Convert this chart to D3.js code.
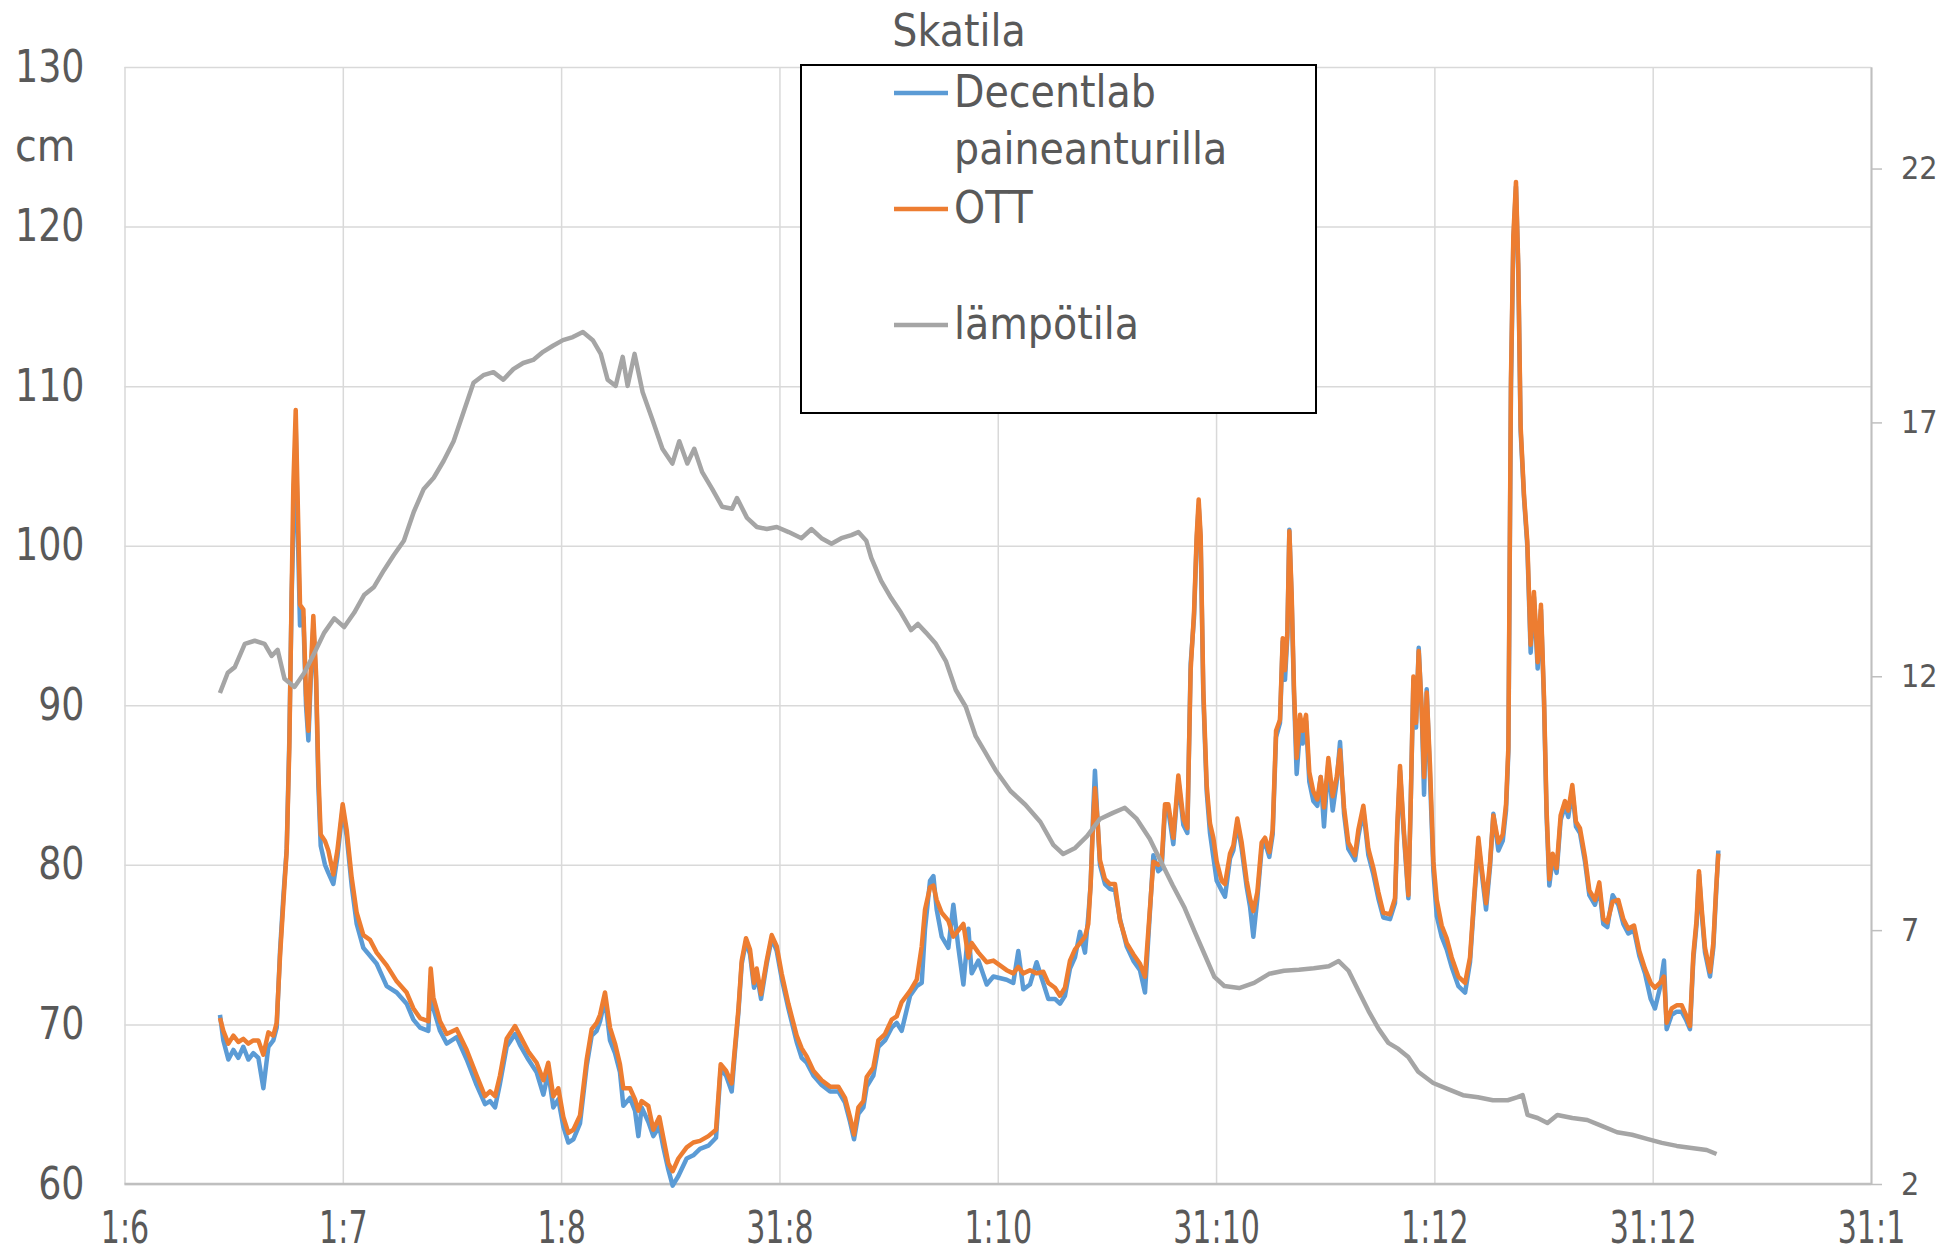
<!DOCTYPE html>
<html lang="fi">
<head>
<meta charset="utf-8">
<title>Skatila</title>
<script src="https://d3js.org/d3.v7.min.js"></script>
<style>
  body { margin: 0; background: #fff; }
  svg text { font-family: "Liberation Sans Narrow", "DejaVu Sans Condensed", sans-serif; fill: #595959; }
  .narrow-mid text { transform-box: fill-box; transform-origin: center; transform: scaleX(0.76); }
  .narrow-end text { transform-box: fill-box; transform-origin: right center; transform: scaleX(0.92); }
</style>
</head>
<body>
<svg width="1952" height="1253"></svg>
<script>
// days counted from 1 June, water level in cm
var waterDays = [
  13.34, 13.81, 14.51, 15.21, 15.90, 16.60, 17.30, 18.00, 18.70, 19.40,
  20.10, 20.79, 21.26, 21.73, 22.19, 22.66, 23.03, 23.36, 23.59, 23.92,
  24.15, 24.52, 24.99, 25.36, 25.69, 26.01, 26.38, 26.76, 27.08, 27.41,
  28.01, 28.48, 29.18, 29.74, 30.48, 31.04, 31.74, 32.44, 33.37, 34.30,
  35.23, 36.63, 38.03, 39.42, 40.36, 41.29, 42.45, 42.78, 43.15, 44.08,
  45.01, 46.41, 47.81, 49.20, 50.37, 51.07, 51.77, 52.46, 53.39, 54.56,
  55.26, 56.42, 57.58, 58.52, 59.21, 59.91, 60.61, 61.31, 62.01, 62.71,
  63.64, 64.57, 65.27, 65.97, 66.44, 67.13, 67.83, 68.53, 69.22, 69.69,
  70.62, 71.32, 71.79, 72.25, 73.18, 73.88, 74.72, 75.28, 75.98, 76.58,
  77.38, 78.54, 79.47, 80.40, 81.57, 82.64, 83.29, 84.04, 84.83, 85.29,
  85.76, 86.23, 86.83, 87.39, 87.95, 88.32, 88.93, 89.72, 90.42, 91.12,
  91.81, 92.75, 93.91, 94.61, 95.31, 96.24, 97.40, 98.57, 99.73, 100.66,
  101.36, 101.92, 102.53, 103.23, 103.69, 104.62, 105.32, 106.25, 107.18, 107.88,
  108.58, 109.75, 110.68, 111.38, 111.84, 112.54, 113.01, 113.47, 114.17, 115.10,
  115.80, 116.50, 117.20, 117.90, 118.36, 119.30, 120.46, 121.39, 123.24, 124.17,
  124.87, 125.57, 126.50, 127.43, 128.36, 129.06, 129.99, 130.69, 131.39, 132.09,
  132.79, 133.49, 134.19, 134.65, 134.98, 135.35, 135.58, 135.91, 136.28, 136.98,
  137.68, 138.38, 139.08, 140.01, 140.94, 141.87, 142.57, 143.74, 144.43, 144.90,
  145.37, 145.83, 146.53, 147.23, 147.93, 148.49, 148.95, 149.42, 149.79, 150.07,
  150.35, 150.72, 151.19, 151.65, 152.12, 152.59, 153.28, 153.75, 154.45, 154.91,
  155.47, 156.08, 156.78, 157.24, 157.71, 158.27, 158.87, 159.34, 159.94, 160.41,
  160.88, 161.43, 161.81, 162.13, 162.46, 162.74, 163.06, 163.39, 163.76, 164.23,
  164.60, 165.07, 165.53, 166.09, 166.65, 167.12, 167.58, 168.19, 168.79, 169.35,
  169.82, 170.38, 170.98, 171.91, 172.38, 173.08, 173.78, 174.48, 175.17, 175.87,
  176.80, 177.50, 177.83, 178.20, 178.67, 179.37, 179.69, 180.07, 180.44, 180.81,
  181.23, 181.56, 181.93, 182.39, 182.86, 183.33, 184.02, 184.72, 185.42, 186.35,
  187.29, 187.98, 188.54, 189.15, 189.61, 190.22, 190.78, 191.24, 191.94, 192.55,
  193.01, 193.34, 193.70, 194.03, 194.40, 194.72, 195.05, 195.52, 195.98, 196.45,
  196.91, 197.43, 197.89, 198.31, 198.68, 199.06, 199.52, 200.08, 200.64, 201.25,
  201.71, 202.27, 202.78, 203.34, 204.04, 204.65, 205.44, 206.04, 206.60, 207.16,
  207.91, 208.70, 209.40, 210.09, 210.89, 211.63, 212.42, 213.22, 213.82, 214.52,
  215.08, 215.45, 216.15, 216.85, 217.55, 218.15, 218.71, 219.18, 219.64, 219.97,
  220.34, 220.81, 221.51, 221.97, 222.35, 222.67
];

var ottCm = [
  70.4, 69.6, 68.8, 69.3, 68.9, 69.1, 68.8, 69.0, 69.0, 68.1,
  69.5, 69.3, 70.1, 74.3, 77.6, 80.9, 87.4, 97.3, 103.8, 108.5,
  103.8, 96.3, 96.0, 90.7, 88.4, 92.0, 95.6, 92.0, 85.8, 81.9,
  81.5, 80.9, 79.4, 80.9, 83.8, 82.2, 79.2, 77.0, 75.6, 75.3,
  74.5, 73.7, 72.7, 72.0, 71.0, 70.4, 70.2, 73.5, 71.7, 70.2,
  69.4, 69.7, 68.4, 66.8, 65.5, 65.8, 65.5, 66.8, 69.1, 69.9,
  69.3, 68.3, 67.6, 66.5, 67.6, 65.5, 66.0, 64.2, 63.2, 63.4,
  64.3, 67.8, 69.7, 70.1, 70.6, 72.0, 69.8, 68.8, 67.5, 66.0,
  66.0, 65.3, 64.6, 65.2, 64.9, 63.4, 64.2, 62.9, 61.3, 60.8,
  61.6, 62.3, 62.6, 62.7, 63.0, 63.4, 67.5, 67.1, 66.3, 68.6,
  70.9, 74.0, 75.4, 74.7, 72.6, 73.5, 71.9, 74.0, 75.6, 74.9,
  73.2, 71.3, 69.3, 68.5, 68.0, 67.1, 66.5, 66.1, 66.1, 65.4,
  64.2, 63.1, 64.8, 65.2, 66.7, 67.3, 69.0, 69.4, 70.3, 70.5,
  71.4, 72.1, 72.8, 74.9, 77.2, 78.6, 78.7, 77.8, 77.0, 76.5,
  75.5, 75.9, 76.3, 74.2, 75.1, 74.5, 73.9, 74.0, 73.4, 73.2,
  73.6, 73.2, 73.4, 73.2, 73.3, 72.6, 72.3, 71.8, 72.3, 74.0,
  74.7, 75.1, 75.5, 76.3, 78.8, 83.0, 84.8, 83.0, 80.3, 79.1,
  78.8, 78.8, 76.5, 75.1, 74.4, 73.8, 73.0, 80.2, 80.0, 80.2,
  83.8, 83.8, 81.7, 85.6, 82.9, 82.3, 92.2, 95.8, 100.6, 102.9,
  100.6, 91.0, 85.0, 82.6, 81.7, 80.2, 79.0, 78.8, 80.7, 81.2,
  82.9, 81.4, 79.0, 77.9, 77.1, 78.3, 81.4, 81.7, 80.8, 82.2,
  88.4, 89.1, 94.2, 92.2, 94.6, 100.9, 97.0, 91.0, 86.7, 89.4,
  88.4, 89.4, 85.8, 84.6, 84.1, 85.5, 83.6, 86.7, 84.3, 85.5,
  87.2, 83.6, 81.4, 80.6, 82.2, 83.7, 81.0, 79.8, 78.3, 77.0,
  76.9, 77.9, 82.6, 86.2, 82.6, 78.1, 83.8, 91.8, 88.9, 93.4,
  89.8, 85.5, 90.8, 86.2, 80.2, 77.8, 76.2, 75.4, 74.2, 73.0,
  72.6, 74.2, 77.9, 81.7, 79.8, 77.6, 80.2, 83.1, 81.4, 81.9,
  83.8, 87.4, 110.4, 119.4, 122.8, 117.6, 107.5, 103.2, 100.3, 93.8,
  97.1, 92.7, 96.3, 90.6, 83.4, 79.1, 80.7, 79.8, 83.1, 84.0,
  83.4, 85.0, 82.7, 82.3, 80.5, 78.4, 77.8, 78.9, 76.6, 76.4,
  77.7, 77.8, 76.6, 76.0, 76.2, 74.6, 73.5, 72.6, 72.3, 72.6,
  73.0, 70.1, 71.0, 71.2, 71.2, 70.6, 69.9, 74.4, 76.6, 79.6,
  77.3, 74.8, 73.3, 75.1, 78.4, 80.7
];

var decentlabCm = [
  70.6, 69.0, 67.8, 68.4, 67.9, 68.6, 67.8, 68.2, 67.9, 66.0,
  68.6, 69.0, 69.8, 74.6, 78.0, 81.0, 87.9, 97.0, 101.0, 107.5,
  102.0, 95.0, 95.5, 90.0, 87.8, 91.5, 95.0, 91.6, 85.0, 81.2,
  80.0, 79.5, 78.8, 80.5, 83.5, 81.8, 78.7, 76.3, 74.8, 74.3,
  73.8, 72.4, 72.0, 71.3, 70.3, 69.8, 69.6, 73.0, 71.0, 69.6,
  68.8, 69.2, 67.8, 66.2, 65.0, 65.2, 64.8, 66.3, 68.6, 69.4,
  68.7, 67.8, 67.0, 65.6, 67.0, 64.8, 65.3, 63.6, 62.6, 62.8,
  63.8, 67.4, 69.3, 69.6, 70.2, 71.6, 69.0, 68.2, 67.0, 64.9,
  65.4, 64.6, 63.0, 64.8, 63.9, 63.0, 63.6, 62.3, 60.9, 59.9,
  60.5, 61.6, 61.8, 62.2, 62.4, 62.9, 67.2, 66.8, 65.8, 68.3,
  70.7, 73.8, 75.2, 74.4, 72.3, 73.2, 71.6, 73.8, 75.4, 74.6,
  72.9, 71.0, 68.9, 67.9, 67.6, 66.8, 66.2, 65.8, 65.8, 65.1,
  63.9, 62.8, 64.4, 64.8, 66.1, 66.8, 68.6, 69.0, 69.8, 70.1,
  69.6, 71.8, 72.4, 72.6, 76.0, 79.0, 79.3, 77.2, 75.5, 74.8,
  77.5, 74.8, 72.5, 76.0, 73.2, 74.0, 72.5, 73.0, 72.8, 72.6,
  74.6, 72.2, 72.5, 73.9, 72.6, 71.6, 71.6, 71.3, 71.8, 73.5,
  74.2, 75.8, 74.5, 76.8, 78.8, 83.5, 85.9, 83.0, 80.0, 78.8,
  78.5, 78.4, 76.6, 74.9, 74.0, 73.4, 72.0, 80.6, 79.6, 79.8,
  83.5, 83.4, 81.3, 85.3, 82.5, 82.0, 92.6, 95.5, 100.3, 102.5,
  100.3, 90.6, 84.6, 82.0, 80.5, 79.0, 78.4, 78.0, 80.4, 80.9,
  82.6, 81.0, 78.6, 77.4, 75.5, 77.9, 81.0, 81.4, 80.5, 81.9,
  88.0, 88.9, 94.0, 91.6, 94.3, 101.0, 96.6, 90.6, 85.7, 88.5,
  87.6, 89.0, 85.2, 84.0, 83.7, 85.5, 82.4, 86.4, 83.4, 85.2,
  87.7, 83.2, 81.0, 80.3, 81.8, 83.4, 80.6, 79.4, 77.9, 76.7,
  76.6, 77.6, 82.3, 85.9, 82.3, 77.9, 83.8, 91.6, 88.6, 93.6,
  89.6, 84.4, 91.0, 85.5, 79.6, 76.8, 75.5, 74.7, 73.6, 72.4,
  72.0, 73.9, 77.6, 81.4, 79.5, 77.2, 79.9, 83.2, 80.9, 81.5,
  83.4, 87.1, 110.0, 119.0, 122.5, 117.3, 107.2, 103.0, 100.0, 93.3,
  96.8, 92.3, 96.0, 90.3, 83.0, 78.7, 80.4, 79.5, 82.8, 83.7,
  83.0, 84.7, 82.4, 82.0, 80.2, 78.1, 77.5, 78.6, 76.3, 76.1,
  78.1, 77.5, 76.3, 75.7, 75.9, 74.3, 73.2, 71.6, 71.0, 72.3,
  74.0, 69.7, 70.6, 70.8, 70.8, 70.3, 69.7, 74.1, 76.3, 79.4,
  77.0, 74.5, 73.0, 74.8, 78.1, 80.9
];

// temperature (right axis)
var tempDays = [
  13.33, 14.43, 15.41, 16.81, 18.19, 19.57, 20.55, 21.39, 22.35, 23.75,
  25.13, 26.53, 27.91, 29.31, 30.69, 32.08, 33.47, 34.86, 36.25, 37.63,
  39.03, 40.42, 41.81, 43.20, 44.58, 45.98, 47.36, 48.76, 50.14, 51.54,
  52.92, 54.32, 55.70, 57.10, 58.48, 59.86, 61.26, 62.64, 64.04, 65.42,
  66.54, 67.50, 68.62, 69.60, 70.29, 71.26, 72.38, 73.76, 75.15, 76.54,
  77.51, 78.63, 79.60, 80.71, 82.10, 83.49, 84.88, 85.57, 86.97, 88.35,
  89.73, 91.13, 92.79, 94.59, 95.99, 97.37, 98.77, 100.15, 101.55, 102.53,
  103.63, 104.33, 105.71, 107.11, 108.49, 109.89, 110.85, 111.97, 113.35, 114.75,
  116.14, 117.53, 118.92, 120.30, 121.70, 123.78, 125.86, 127.96, 129.76, 131.14,
  132.82, 134.48, 136.28, 138.09, 139.76, 141.42, 143.23, 144.62, 146.42, 148.10,
  149.48, 150.87, 152.26, 153.65, 155.73, 157.82, 159.91, 161.99, 164.07, 166.15,
  168.25, 169.63, 171.01, 172.41, 173.79, 175.19, 176.57, 177.97, 179.35, 180.74,
  182.83, 184.91, 186.99, 189.09, 191.17, 193.25, 194.63, 195.33, 196.02, 197.42,
  198.80, 200.18, 202.28, 204.36, 206.45, 208.53, 210.62, 212.70, 214.78, 216.86,
  218.94, 221.04, 222.42
];

var tempC = [
  11.67, 12.07, 12.18, 12.64, 12.70, 12.64, 12.40, 12.52, 11.95, 11.79,
  12.07, 12.46, 12.86, 13.14, 12.97, 13.25, 13.60, 13.76, 14.09, 14.39,
  14.67, 15.24, 15.69, 15.91, 16.24, 16.63, 17.20, 17.78, 17.93, 17.99,
  17.84, 18.05, 18.17, 18.23, 18.39, 18.51, 18.62, 18.68, 18.78, 18.62,
  18.35, 17.84, 17.72, 18.29, 17.72, 18.35, 17.60, 17.05, 16.48, 16.19,
  16.63, 16.19, 16.48, 16.02, 15.69, 15.34, 15.30, 15.51, 15.12, 14.94,
  14.90, 14.94, 14.84, 14.72, 14.90, 14.72, 14.61, 14.72, 14.78, 14.84,
  14.67, 14.33, 13.88, 13.54, 13.25, 12.91, 13.03, 12.86, 12.64, 12.30,
  11.73, 11.40, 10.82, 10.49, 10.15, 9.74, 9.47, 9.13, 8.68, 8.50,
  8.62, 8.85, 9.19, 9.31, 9.41, 9.19, 8.80, 8.40, 7.89, 7.44,
  6.98, 6.53, 6.08, 5.90, 5.86, 5.96, 6.14, 6.20, 6.22, 6.25,
  6.29, 6.39, 6.20, 5.80, 5.41, 5.06, 4.78, 4.66, 4.50, 4.21,
  3.99, 3.87, 3.75, 3.71, 3.65, 3.65, 3.71, 3.75, 3.36, 3.30,
  3.20, 3.36, 3.30, 3.26, 3.14, 3.02, 2.97, 2.89, 2.81, 2.75,
  2.71, 2.67, 2.59
];

var leftTicks = [60, 70, 80, 90, 100, 110, 120, 130];
var rightTicks = [2, 7, 12, 17, 22];
var xTickDays = [0, 30.5, 61, 91.5, 122, 152.5, 183, 213.5, 244];
var xTickLabels = ["1:6", "1:7", "1:8", "31:8", "1:10", "31:10", "1:12", "31:12", "31:1"];

var svg = d3.select("svg"),
    plotLeft = 124.5, plotRight = 1871, plotTop = 67, plotBottom = 1184,
    plotW = plotRight - plotLeft, plotH = plotBottom - plotTop;

var x = d3.scaleLinear().domain([0, 244]).range([plotLeft, plotRight]);
var yL = d3.scaleLinear().domain([60, 130]).range([plotBottom, plotTop]);
var yR = d3.scaleLinear().domain([2, 24]).range([plotBottom, plotTop]);

// horizontal grid + left labels
var gLeft = svg.append("g")
    .attr("class", "narrow-end")
    .attr("transform", "translate(" + plotLeft + ",0)")
    .call(d3.axisLeft(yL).tickValues(leftTicks).tickSize(-plotW).tickPadding(40));
gLeft.select(".domain").remove();
gLeft.selectAll(".tick line").attr("stroke", "#d9d9d9").attr("stroke-width", 1.5);
gLeft.selectAll(".tick text").style("font-size", "44px").attr("fill", "#595959");

// vertical grid + date labels
var gBottom = svg.append("g")
    .attr("class", "narrow-mid")
    .attr("transform", "translate(0," + plotBottom + ")")
    .call(d3.axisBottom(x).tickValues(xTickDays).tickSize(-plotH).tickPadding(28)
      .tickFormat(function(d, i) { return xTickLabels[i]; }));
gBottom.select(".domain").remove();
gBottom.selectAll(".tick line").attr("stroke", "#d9d9d9").attr("stroke-width", 1.5);
gBottom.selectAll(".tick text").style("font-size", "44px").attr("fill", "#595959");

// right axis for temperature
var gRight = svg.append("g")
    .attr("transform", "translate(" + plotRight + ",0)")
    .call(d3.axisRight(yR).tickValues(rightTicks).tickSize(11).tickSizeOuter(0).tickPadding(19));
gRight.select(".domain").attr("stroke", "#bfbfbf").attr("stroke-width", 2);
gRight.selectAll(".tick line").attr("stroke", "#bfbfbf").attr("stroke-width", 1.5);
gRight.selectAll(".tick text").style("font-size", "32px").attr("fill", "#595959");

// bottom axis line
svg.append("line")
    .attr("x1", plotLeft).attr("x2", plotRight)
    .attr("y1", plotBottom).attr("y2", plotBottom)
    .attr("stroke", "#bfbfbf").attr("stroke-width", 2.5);

var water = d3.line()
    .x(function(d) { return x(d[0]); })
    .y(function(d) { return yL(d[1]); });
var temp = d3.line()
    .x(function(d) { return x(d[0]); })
    .y(function(d) { return yR(d[1]); });

svg.append("path")
    .datum(d3.zip(waterDays, decentlabCm))
    .attr("d", water)
    .attr("fill", "none").attr("stroke", "#5b9bd5").attr("stroke-width", 4.5)
    .attr("stroke-linejoin", "round");

svg.append("path")
    .datum(d3.zip(waterDays, ottCm))
    .attr("d", water)
    .attr("fill", "none").attr("stroke", "#ed7d31").attr("stroke-width", 4.5)
    .attr("stroke-linejoin", "round");

svg.append("path")
    .datum(d3.zip(tempDays, tempC))
    .attr("d", temp)
    .attr("fill", "none").attr("stroke", "#a5a5a5").attr("stroke-width", 4.5)
    .attr("stroke-linejoin", "round");

// titles
svg.append("text")
    .attr("x", 959).attr("y", 46)
    .attr("text-anchor", "middle")
    .style("font-size", "44px")
    .text("Skatila");

svg.append("text")
    .attr("x", 15).attr("y", 161)
    .style("font-size", "44px")
    .text("cm");

// legend
var legend = svg.append("g");
legend.append("rect")
    .attr("x", 801).attr("y", 65).attr("width", 515).attr("height", 348)
    .attr("fill", "#fff").attr("stroke", "#000").attr("stroke-width", 2);

var legendItems = [
  { color: "#5b9bd5", y: 93, lines: ["Decentlab", "paineanturilla"] },
  { color: "#ed7d31", y: 209, lines: ["OTT"] },
  { color: "#a5a5a5", y: 325, lines: ["lämpötila"] }
];

legendItems.forEach(function(it) {
  legend.append("line")
      .attr("x1", 894).attr("x2", 948)
      .attr("y1", it.y).attr("y2", it.y)
      .attr("stroke", it.color).attr("stroke-width", 4.5);
  it.lines.forEach(function(t, i) {
    legend.append("text")
        .attr("x", 954).attr("y", it.y + 14 + i * 57)
        .style("font-size", "44px")
        .text(t);
  });
});
</script>
</body>
</html>
